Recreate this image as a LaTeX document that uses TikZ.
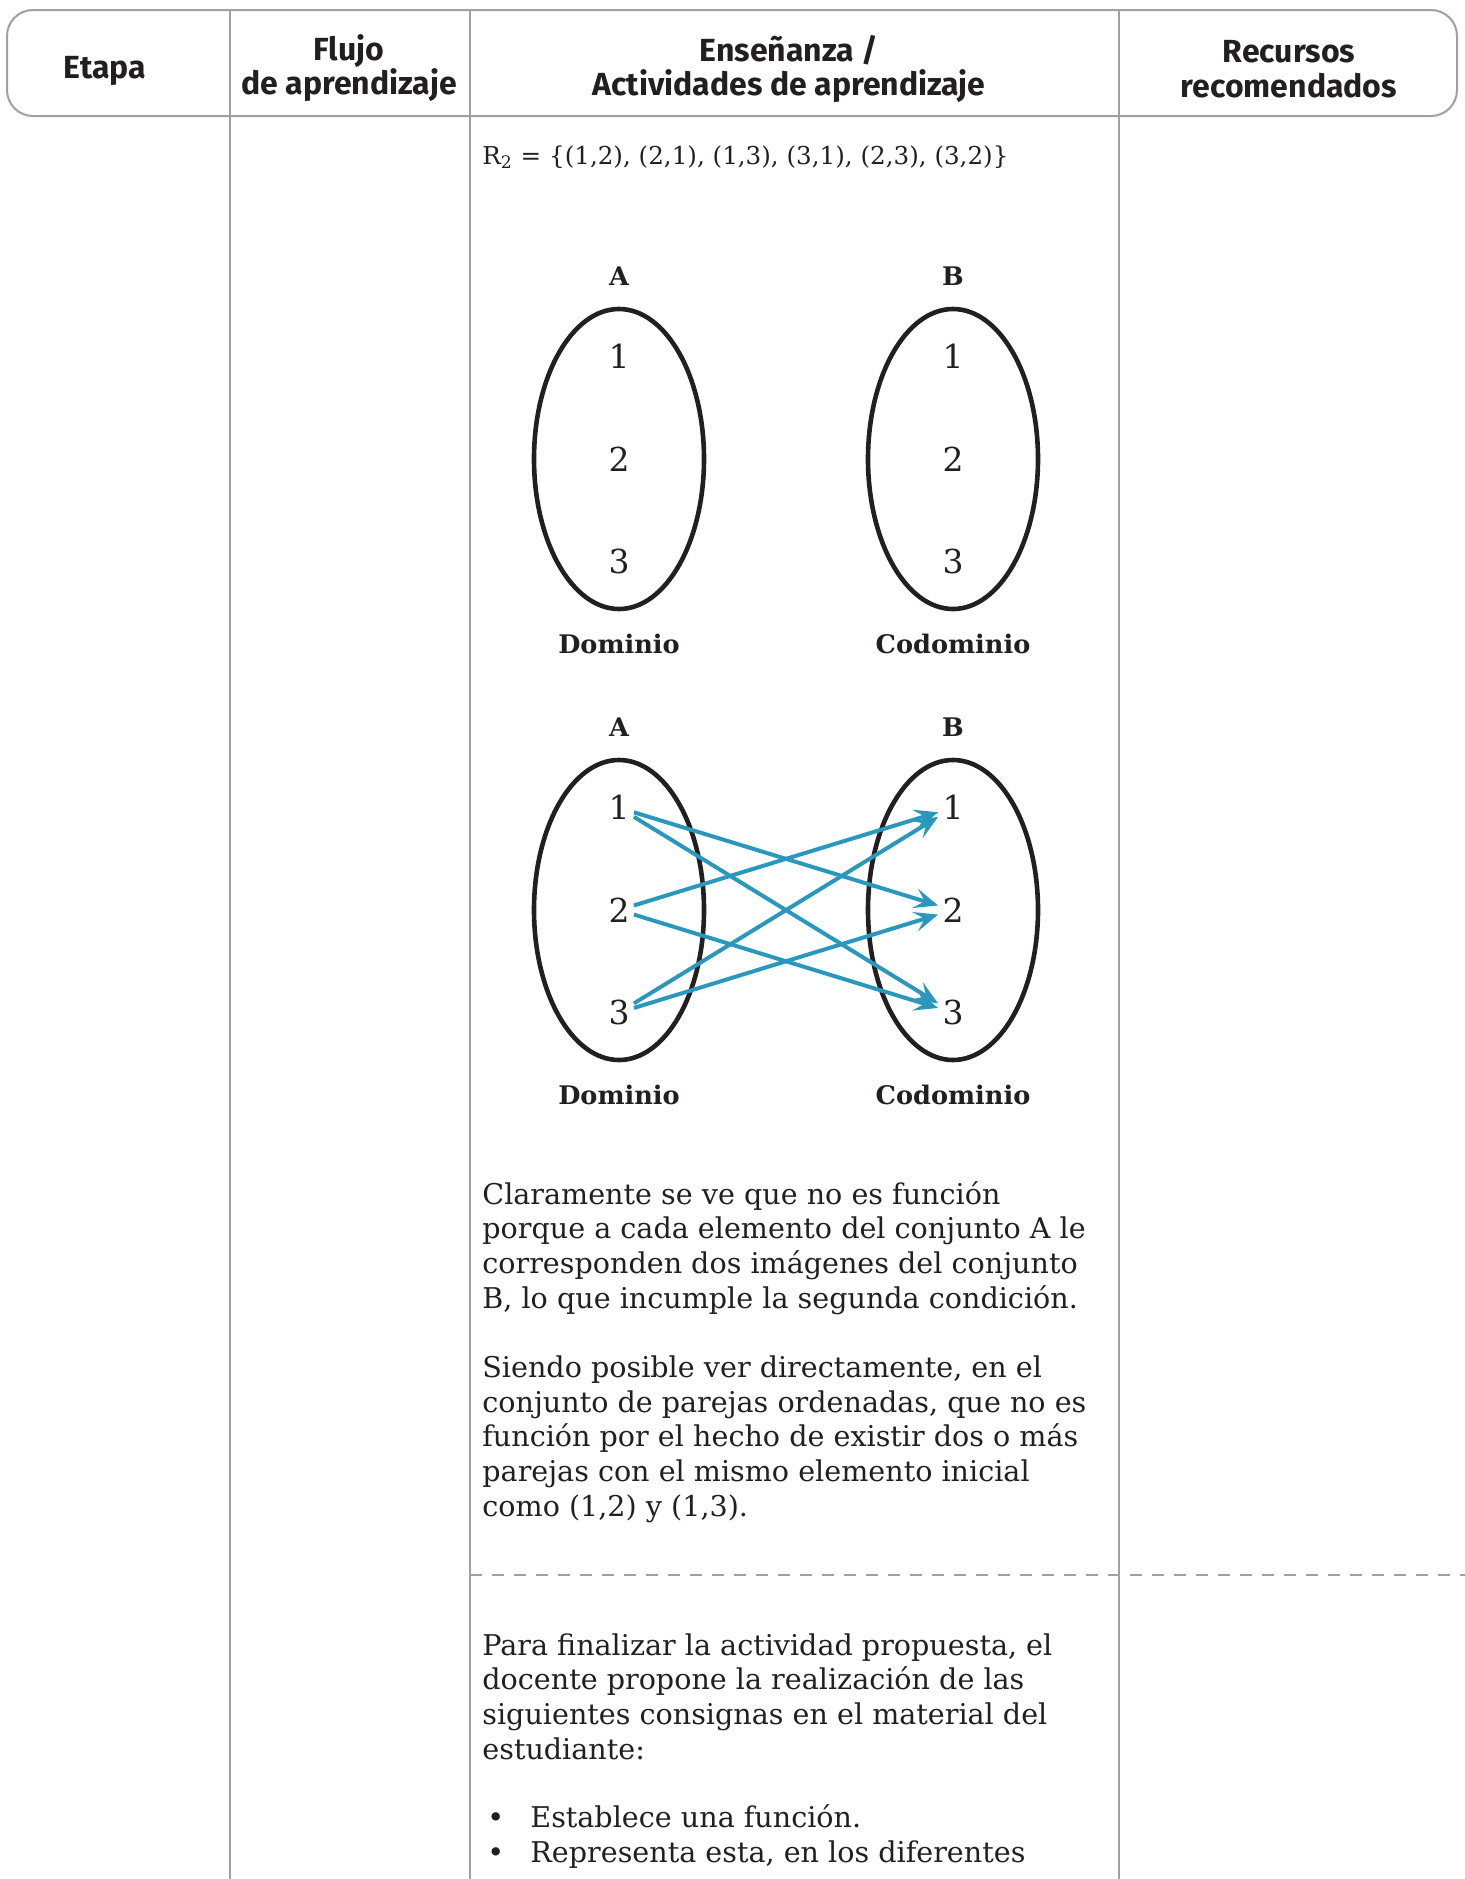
\documentclass[tikz,border=0pt]{standalone}
\usepackage{fontspec}
\setmainfont{DejaVu Serif}
\newfontfamily\headfont{Fira Sans}
\usetikzlibrary{shapes.geometric,arrows.meta,positioning}
\definecolor{rulegray}{RGB}{160,160,160}
\definecolor{mapblue}{RGB}{42,152,189}
\definecolor{inkblack}{RGB}{35,31,32}

\tikzset{
  gridline/.style={draw=rulegray, line width=1pt},
  headtxt/.style={font=\headfont\bfseries\fontsize{16}{17.4}\selectfont, align=center, text=inkblack},
  bodytxt/.style={font=\fontsize{14.3}{17.3}\selectfont, align=left, anchor=base west, inner sep=0pt, text=inkblack},
  setname/.style={font=\bfseries\fontsize{12.8}{14}\selectfont, text=inkblack},
  setoval/.style={draw=inkblack, ellipse, line width=2.3pt, minimum width=85pt, minimum height=150pt, inner sep=0pt},
  elem/.style={font=\fontsize{16.5}{18}\selectfont, inner sep=2pt, text=inkblack},
  maparrow/.style={draw=mapblue, line width=2pt, -{Stealth[length=12pt, width=10pt, inset=5pt]}}
}

\begin{document}
\begin{tikzpicture}[x=0.5pt, y=-0.5pt]
\useasboundingbox (0,0) rectangle (1465,1879);

% table
\draw[gridline, rounded corners=13pt] (7,10) rectangle (1457,116);
\draw[gridline] (230,10) -- (230,1879);
\draw[gridline] (470,10) -- (470,1879);
\draw[gridline] (1119,10) -- (1119,1879);
\draw[gridline, dash pattern=on 6pt off 5pt] (470,1575) -- (1465,1575);

\node[headtxt] (etapa) at (105,71) {Etapa};
\node[headtxt] (flujo) at (349,68) {Flujo\\de aprendizaje};
\node[headtxt] (ensen) at (789,69) {Enseñanza /\\Actividades de aprendizaje};
\node[headtxt] (recur) at (1289,69) {Recursos\\recomendados};

\node[bodytxt, font=\fontsize{12.3}{15}\selectfont] (rel) at (482,164) {R\textsubscript{2} = \{(1,2), (2,1), (1,3), (3,1), (2,3), (3,2)\}};

% first diagram: sets only
\node[setoval] (ovA) at (619,459) {};
\node[setoval] (ovB) at (953,459) {};
\node[setname, above=7pt of ovA] (nmA) {A};
\node[setname, above=7pt of ovB] (nmB) {B};
\node[setname, below=8pt of ovA] (domA) {Dominio};
\node[setname, below=8pt of ovB] (codB) {Codominio};

\node[elem] (a2) at (ovA) {2};
\node[elem, above=34.5pt of a2] (a1) {1};
\node[elem, below=34.5pt of a2] (a3) {3};
\node[elem] (b2) at (ovB) {2};
\node[elem, above=34.5pt of b2] (b1) {1};
\node[elem, below=34.5pt of b2] (b3) {3};

% second diagram: relation R2
\node[setoval] (ovC) at (619,910) {};
\node[setoval] (ovD) at (953,910) {};
\node[setname, above=7pt of ovC] (nmC) {A};
\node[setname, above=7pt of ovD] (nmD) {B};
\node[setname, below=8pt of ovC] (domC) {Dominio};
\node[setname, below=8pt of ovD] (codD) {Codominio};

\node[elem] (c2) at (ovC) {2};
\node[elem, above=34.5pt of c2] (c1) {1};
\node[elem, below=34.5pt of c2] (c3) {3};
\node[elem] (d2) at (ovD) {2};
\node[elem, above=34.5pt of d2] (d1) {1};
\node[elem, below=34.5pt of d2] (d3) {3};

\draw[maparrow] (c1) -- (d2);
\draw[maparrow] (c1) -- (d3);
\draw[maparrow] (c2) -- (d1);
\draw[maparrow] (c2) -- (d3);
\draw[maparrow] (c3) -- (d1);
\draw[maparrow] (c3) -- (d2);

% text nodes sit on the baseline of their last line
\node[bodytxt] (nota1) at (482,1308) {Claramente se ve que no es función\\porque a cada elemento del conjunto A le\\corresponden dos imágenes del conjunto\\B, lo que incumple la segunda condición.};
\node[bodytxt] (nota2) at (482,1516) {Siendo posible ver directamente, en el\\conjunto de parejas ordenadas, que no es\\función por el hecho de existir dos o más\\parejas con el mismo elemento inicial\\como (1,2) y (1,3).};
\node[bodytxt] (cierre) at (482,1759) {Para finalizar la actividad propuesta, el\\docente propone la realización de las\\siguientes consignas en el material del\\estudiante:};
\node[bodytxt] (tareas) at (487,1862) {\makebox[21.5pt][l]{\textbullet}Establece una función.\\\makebox[21.5pt][l]{\textbullet}Representa esta, en los diferentes};
\end{tikzpicture}
\end{document}
